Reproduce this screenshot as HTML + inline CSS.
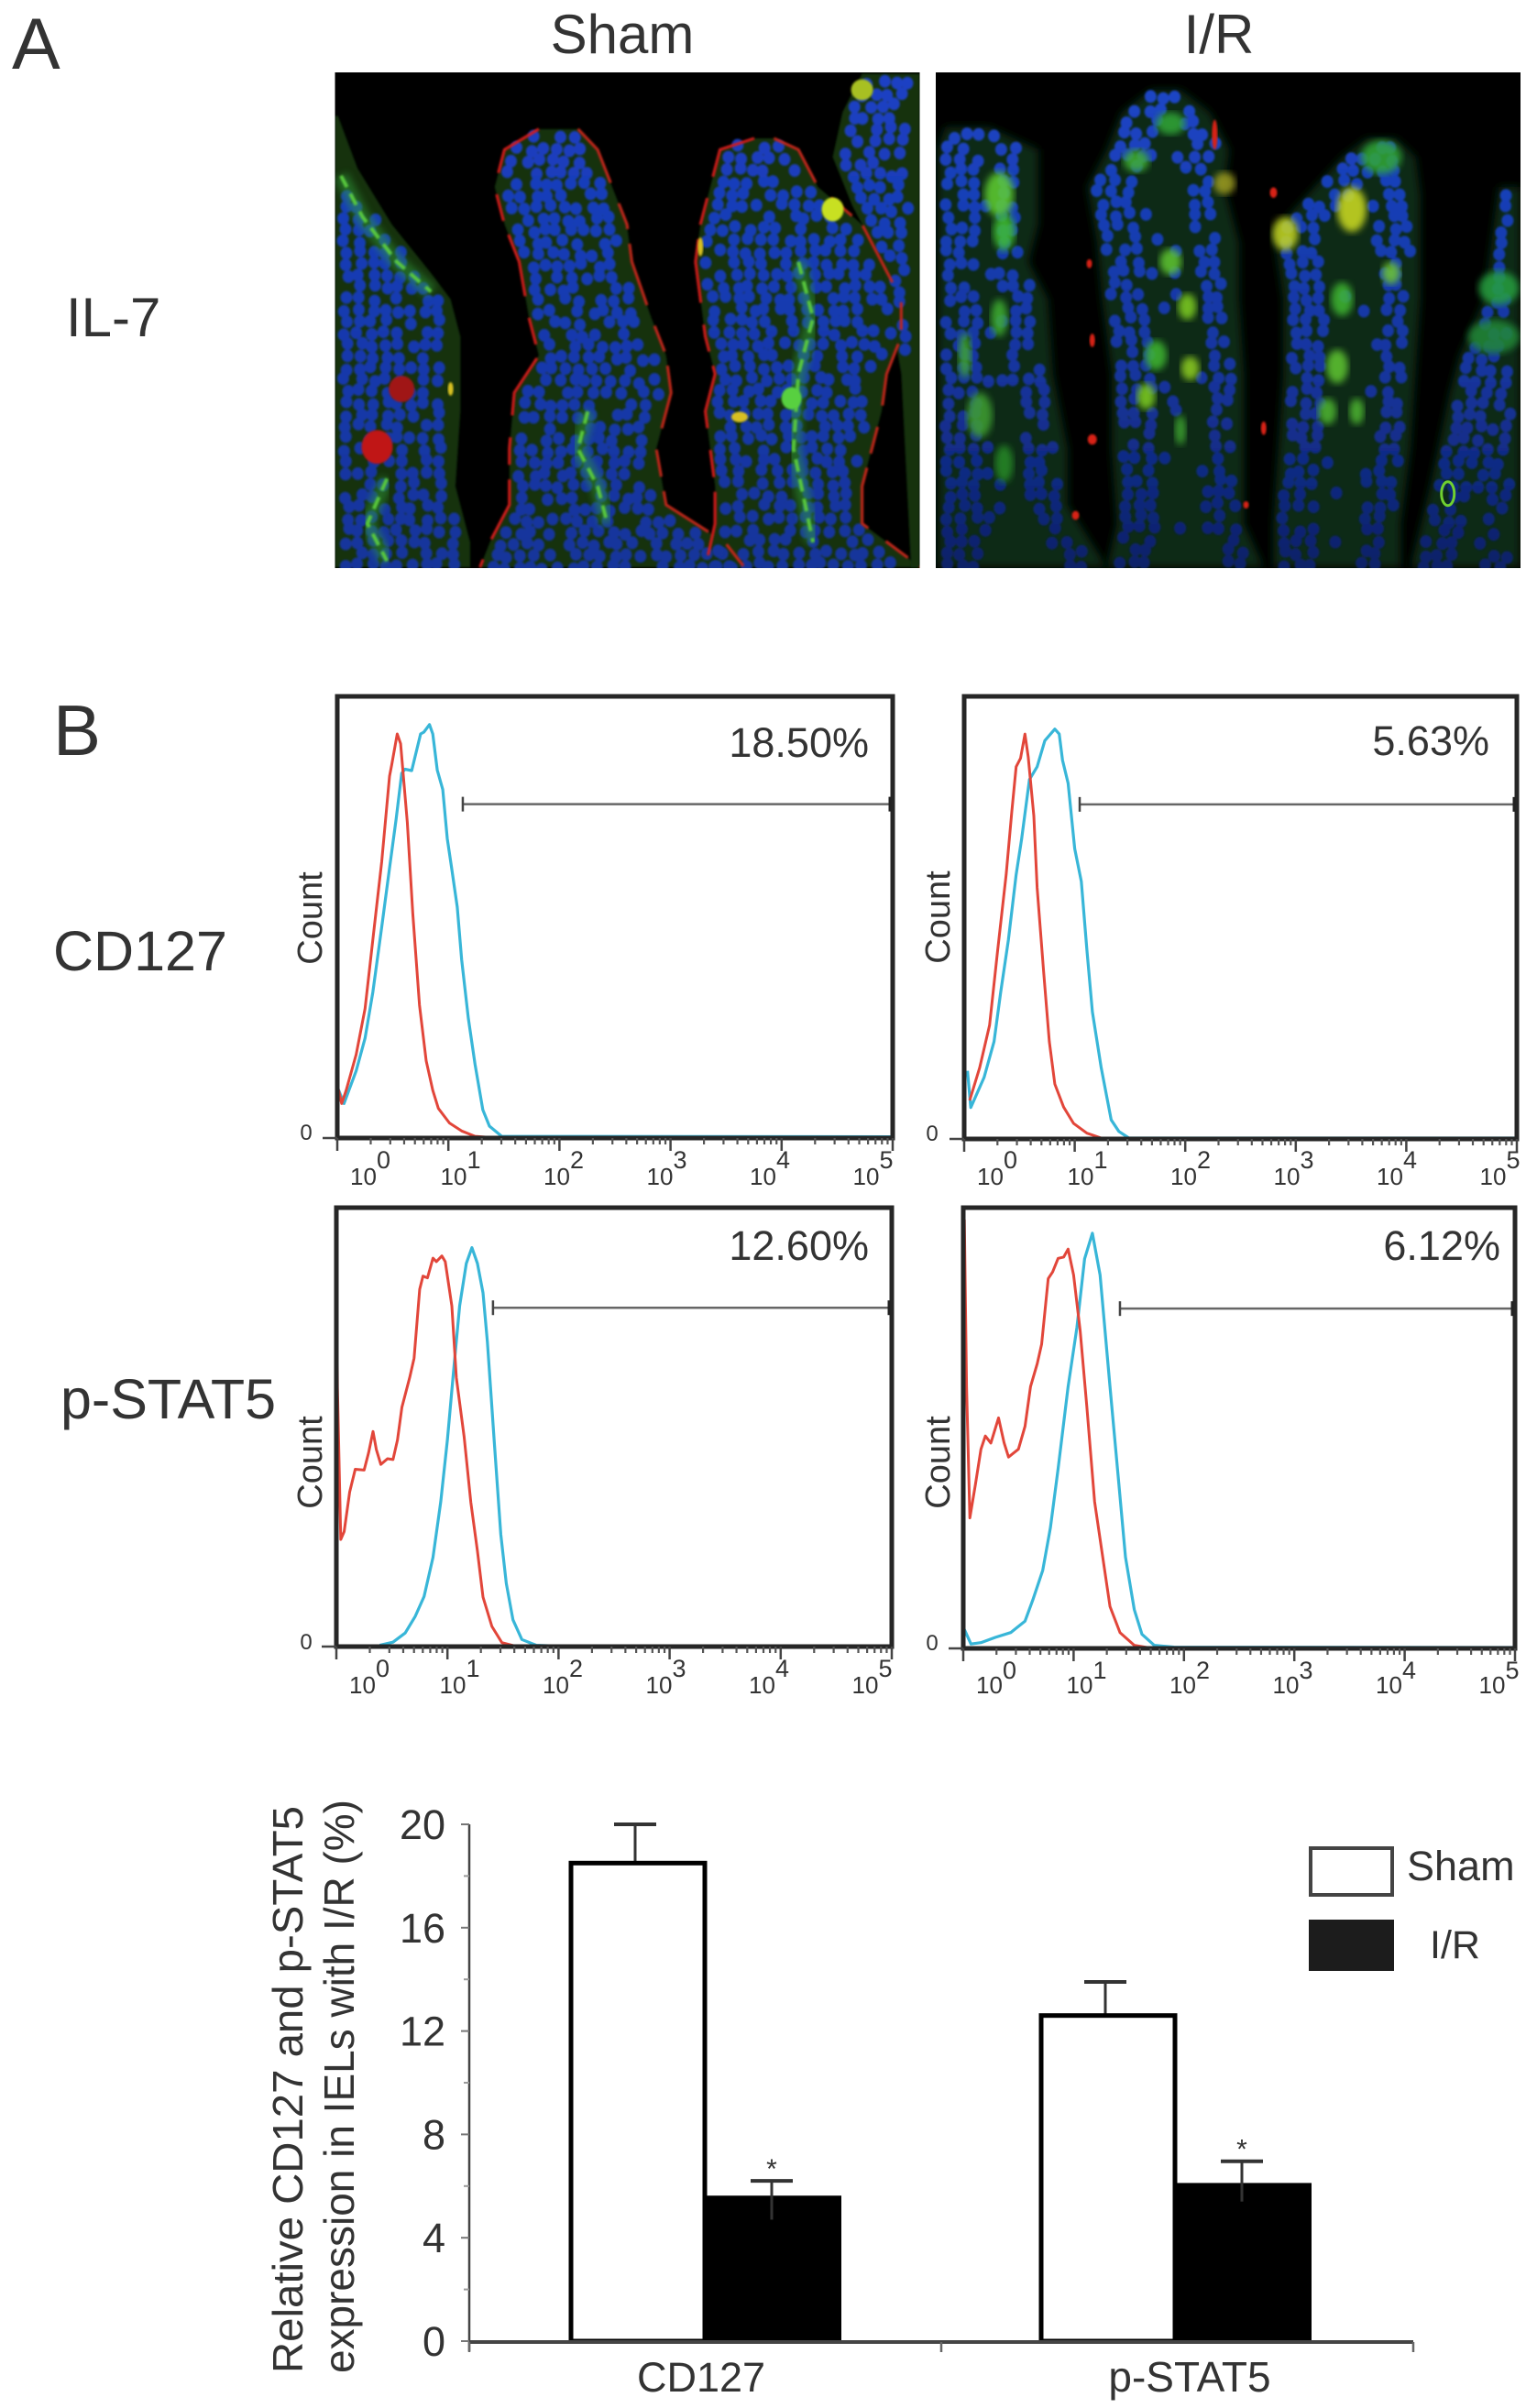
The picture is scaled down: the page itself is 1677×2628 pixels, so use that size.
<!DOCTYPE html>
<html lang="en">
<head>
<meta charset="utf-8">
<title>IL-7, CD127 and p-STAT5 figure</title>
<style>
  html, body { margin: 0; padding: 0; background: #fff; }
  svg { display: block; }
  text { font-family: "Liberation Sans", sans-serif; fill: #333; }
</style>
</head>
<body>
<svg id="fig" xmlns="http://www.w3.org/2000/svg" width="1677" height="2628" viewBox="0 0 1677 2628">
  <defs>
    <linearGradient id="gradSham" gradientUnits="userSpaceOnUse" x1="0" y1="79" x2="0" y2="620">
      <stop offset="0" stop-color="#1b40c4"/><stop offset="1" stop-color="#15349a"/>
    </linearGradient>
    <linearGradient id="gradIR" gradientUnits="userSpaceOnUse" x1="0" y1="79" x2="0" y2="620">
      <stop offset="0" stop-color="#1c46c8"/><stop offset="0.6" stop-color="#15359e"/><stop offset="1" stop-color="#0d2068"/>
    </linearGradient>
    <filter id="blurSoft" x="-10%" y="-10%" width="120%" height="120%"><feGaussianBlur stdDeviation="1.1"/></filter>
    <filter id="blurGreen" x="-10%" y="-10%" width="120%" height="120%"><feGaussianBlur stdDeviation="4"/></filter>
    <filter id="blurTissue" x="-10%" y="-10%" width="120%" height="120%"><feGaussianBlur stdDeviation="5"/></filter>
    <clipPath id="clipSham"><rect x="365.5" y="79" width="638" height="541"/></clipPath>
    <clipPath id="clipIR"><rect x="1021" y="79" width="638" height="541"/></clipPath>
  </defs>

  <text x="13" y="75" font-size="79">A</text>
  <text x="679" y="58" font-size="60" text-anchor="middle">Sham</text>
  <text x="1330" y="58" font-size="60" text-anchor="middle">I/R</text>
  <text x="72" y="367" font-size="60">IL-7</text>

  <g id="micrographs">
    <rect x="365.5" y="79" width="638" height="541" fill="#000"/>
    <rect x="1021" y="79" width="638" height="541" fill="#000"/>
    <g id="shamLayer" clip-path="url(#clipSham)"></g>
    <g id="irLayer" clip-path="url(#clipIR)"></g>
  </g>

  <text x="58" y="824" font-size="78">B</text>
  <text x="58" y="1059" font-size="61">CD127</text>
  <text x="66" y="1548" font-size="61">p-STAT5</text>

  <g id="flowPanels"></g>

  <g id="barChart">
    <g transform="translate(330,2590) rotate(-90)">
      <text font-size="46" textLength="619" lengthAdjust="spacingAndGlyphs">Relative CD127 and p-STAT5</text>
    </g>
    <g transform="translate(386,2590) rotate(-90)">
      <text font-size="46" textLength="626" lengthAdjust="spacingAndGlyphs">expression in IELs with I/R (%)</text>
    </g>
    <rect x="1430" y="2017" width="89" height="51" fill="#fff" stroke="#444" stroke-width="4"/>
    <text x="1535" y="2052" font-size="45">Sham</text>
    <rect x="1428" y="2095" width="93" height="56" fill="#1c1c1c"/>
    <text x="1560" y="2137" font-size="43">I/R</text>
  </g>
</svg>

<script>
// ---------- Flow histogram data (x in decades above axis start, y in % of plot height) ----------
const decadeTicks = [0, 1, 2, 3, 4, 5];
const minorMultipliers = [2, 3, 4, 5, 6, 7, 8, 9];
const percentLabels = ["18.50%", "5.63%", "12.60%", "6.12%"];
const gateStartDecades = [1.13, 1.045, 1.41, 1.42];
const gateCounts = [75.6, 75.6, 77.2, 77.1];

const cd127ShamRedLog = [0.01, 0.04, 0.08, 0.17, 0.25, 0.34, 0.40, 0.47, 0.49, 0.54, 0.57, 0.63, 0.68, 0.74, 0.80, 0.86, 0.91, 1.01, 1.12, 1.24, 1.39, 5];
const cd127ShamRedCount = [11, 7.8, 10.8, 18.9, 29.3, 49.3, 62.6, 81.9, 84.5, 91.5, 89.3, 71.5, 50.8, 30.1, 17.5, 10.8, 6.7, 3.4, 1.6, 0.4, 0.1, 0];
const cd127ShamBlueLog = [0.01, 0.06, 0.17, 0.25, 0.32, 0.40, 0.47, 0.53, 0.58, 0.61, 0.67, 0.75, 0.78, 0.83, 0.86, 0.90, 0.95, 0.99, 1.03, 1.08, 1.12, 1.18, 1.24, 1.31, 1.37, 1.48, 5];
const cd127ShamBlueCount = [11, 7.8, 15.2, 22.6, 33, 47.8, 61.1, 72.2, 82.6, 83.5, 83.2, 91.5, 91.9, 93.6, 91.5, 83.3, 78.9, 67.8, 61.1, 52.3, 40.4, 27.1, 16.7, 6.4, 2.7, 0.4, 0.3];

const cd127IrRedLog = [0.05, 0.14, 0.23, 0.30, 0.38, 0.43, 0.47, 0.51, 0.55, 0.58, 0.63, 0.66, 0.72, 0.77, 0.82, 0.90, 0.99, 1.11, 1.24, 5];
const cd127IrRedCount = [8.7, 16.1, 25.7, 42, 59.7, 73.8, 84.1, 86, 91.5, 86.3, 73, 56.8, 37.5, 22, 12.4, 7.2, 3.5, 1.3, 0.2, 0];
const cd127IrBlueLog = [0.03, 0.06, 0.18, 0.27, 0.33, 0.40, 0.47, 0.52, 0.59, 0.66, 0.73, 0.82, 0.86, 0.89, 0.94, 1.0, 1.06, 1.11, 1.16, 1.24, 1.33, 1.40, 1.49, 5];
const cd127IrBlueCount = [15.4, 7.1, 13.9, 22, 33.1, 44.9, 59.7, 67.8, 81.2, 84.1, 90, 92.6, 91.5, 85.6, 80.4, 65.6, 58.2, 42.7, 28.7, 16.1, 4.3, 1.7, 0.2, 0.2];

const stat5ShamRedLog = [0, 0.01, 0.04, 0.07, 0.12, 0.17, 0.25, 0.29, 0.33, 0.36, 0.40, 0.46, 0.51, 0.55, 0.59, 0.66, 0.70, 0.75, 0.78, 0.82, 0.87, 0.90, 0.95, 0.98, 1.04, 1.08, 1.15, 1.21, 1.27, 1.32, 1.40, 1.49, 1.61];
const stat5ShamRedCount = [94, 59, 24.4, 26.2, 35.2, 40.4, 40.2, 44.1, 49, 44.9, 41.5, 42.8, 42.6, 47.1, 54.5, 61.3, 65.7, 81.4, 84.4, 84, 88.5, 87.7, 89, 87.7, 77.6, 61.3, 47.8, 32.9, 21.8, 11.3, 4.6, 0.9, 0.1];
const stat5ShamBlueLog = [0.39, 0.51, 0.62, 0.71, 0.79, 0.87, 0.94, 1.0, 1.06, 1.11, 1.17, 1.22, 1.27, 1.32, 1.36, 1.42, 1.48, 1.53, 1.59, 1.67, 1.80, 2.0];
const stat5ShamBlueCount = [0.3, 1.0, 3.1, 6.9, 11.4, 20.3, 33, 47.2, 64.2, 77.6, 87.3, 90.9, 87.3, 80.6, 69.4, 47.2, 25.6, 14.4, 6.1, 1.6, 0.3, 0.1];

const stat5IrRedLog = [0.01, 0.03, 0.06, 0.11, 0.16, 0.20, 0.25, 0.32, 0.37, 0.41, 0.50, 0.56, 0.61, 0.67, 0.71, 0.77, 0.81, 0.86, 0.91, 0.95, 1.0, 1.06, 1.12, 1.19, 1.26, 1.33, 1.42, 1.55, 1.69];
const stat5IrRedCount = [97.3, 59.4, 29.6, 37.1, 45.2, 48.2, 46.6, 52.3, 46.7, 43.4, 45.2, 50.4, 59.4, 64.6, 69, 83.9, 85.4, 88.5, 88.8, 90.6, 84.7, 72, 54.9, 33.3, 21.4, 9.5, 3.6, 0.7, 0.1];
const stat5IrBlueLog = [0.01, 0.07, 0.16, 0.29, 0.43, 0.56, 0.63, 0.72, 0.79, 0.86, 0.95, 1.03, 1.10, 1.17, 1.24, 1.33, 1.40, 1.47, 1.55, 1.62, 1.73, 1.91, 5];
const stat5IrBlueCount = [4.3, 1, 1.3, 2.5, 3.6, 6.2, 11, 17.7, 27.4, 40.8, 59.4, 72.8, 88.4, 94.2, 84.7, 59.4, 40, 20.7, 8.8, 3.2, 0.7, 0.3, 0.2];

// ---------- Bar chart data ----------
const barCategories = ["CD127", "p-STAT5"];
const shamValues = [18.5, 12.6];
const irValues = [5.63, 6.12];
const shamErrorUp = [1.5, 1.3];
const irErrorUp = [0.57, 0.84];
const irErrorDown = [0.93, 0.72];
const yTickValues = [0, 4, 8, 12, 16, 20];
const yMinorValues = [2, 6, 10, 14, 18];

// ---------- Micrograph outlines (approximate tissue shapes: [y, left, right]) ----------
const shamVilli = [
  [[310,342,345],[450,342,365],[600,342,400],[730,342,440],[800,342,460],[900,342,470],[1100,342,470],[1300,342,465],[1450,342,480],[1517,342,480]],
  [[345,550,590],[400,515,610],[500,505,625],[600,515,640],[700,530,645],[850,540,665],[950,550,680],[1050,525,685],[1200,520,670],[1350,520,680],[1450,500,740],[1517,490,760]],
  [[370,770,790],[400,735,815],[500,725,835],[600,715,880],[700,710,900],[800,715,920],[900,720,920],[1000,730,905],[1100,720,900],[1200,725,890],[1300,730,880],[1400,730,880],[1517,720,940]],
  [[197,880,939],[300,860,939],[420,850,939],[550,870,939],[700,900,939],[1000,920,939],[1517,930,939]]
];
const irVilli = [
  [[340,965,1010],[400,957,1060],[600,957,1060],[700,957,1050],[800,957,1070],[1000,957,1075],[1200,957,1090],[1350,957,1090],[1517,957,1130]],
  [[240,1175,1205],[300,1145,1235],[400,1130,1255],[500,1110,1250],[650,1120,1265],[800,1125,1265],[1000,1135,1270],[1200,1135,1270],[1400,1140,1270],[1517,1130,1290]],
  [[370,1395,1425],[420,1370,1445],[520,1335,1450],[620,1300,1450],[800,1310,1450],[1000,1310,1445],[1200,1305,1440],[1400,1300,1430],[1517,1300,1430]],
  [[500,1530,1552],[800,1515,1552],[950,1490,1552],[1050,1480,1552],[1300,1460,1552],[1517,1440,1552]]
];
const shamGreenStreaks = [
  [[348,470],[370,580],[405,700],[440,780]],
  [[600,1100],[590,1200],[610,1300],[620,1400]],
  [[815,700],[830,850],[815,1000],[810,1200],[830,1450]],
  [[395,1280],[375,1400],[395,1500]]
];
const shamGreenBlobs = [[850,560,12,32,"#c8e020"],[808,1065,11,30,"#58d040"],[755,1115,9,14,"#d8c020"],[410,1040,14,35,"#a01818"],[385,1195,17,45,"#c01818"],[880,240,12,28,"#a8c020"],[460,1040,3,18,"#d8c020"],[715,660,3,25,"#d8c020"]];
const irGreenBlobs = [
  [1020,520,16,60,"#60d030"],[1025,620,12,50,"#40c030"],[1160,430,14,30,"#40b030"],[1195,330,16,30,"#30a838"],[1195,700,12,35,"#60c830"],
  [1212,820,10,35,"#80d020"],[1180,950,12,40,"#40b830"],[1215,985,10,32,"#90d020"],[1170,1060,10,35,"#80d020"],[1250,490,12,30,"#a0a020"],
  [1380,560,16,60,"#d0e020"],[1312,625,14,45,"#c8d820"],[1410,420,22,45,"#30a838"],[1420,730,10,30,"#70c830"],[1370,800,12,45,"#40b830"],
  [1365,980,12,45,"#60c830"],[1355,1100,10,35,"#50b830"],[1385,1100,8,35,"#50b830"],[1020,850,9,50,"#40b030"],[985,950,7,60,"#40a830"],
  [1000,1110,14,60,"#40a030"],[1025,1240,10,50,"#288a28"],[1530,770,22,45,"#28a040"],[1525,900,28,45,"#208838"],[1205,1150,6,40,"#40a830"]
];
const irRedSpecks = [[1240,360,3,40],[1112,705,3,12],[1115,910,3,18],[1115,1175,5,14],[1300,515,4,14],[1098,1378,4,12],[1272,1350,3,10],[1290,1145,3,18]];

const NS = "http://www.w3.org/2000/svg";
function make(tag, attrs, parent, text) {
  const node = document.createElementNS(NS, tag);
  for (const key in attrs) node.setAttribute(key, attrs[key]);
  if (text !== undefined) node.textContent = text;
  parent.appendChild(node);
  return node;
}

// ---------- Micrographs ----------
let seed = 12345;
function rnd() { seed = (seed * 1664525 + 1013904223) % 4294967296; return seed / 4294967296; }
const px = x => x / 0.9356;
const py = y => y / 2.45;

function rowAt(rows, y) {
  for (let i = 0; i < rows.length - 1; i++) {
    const a = rows[i], b = rows[i + 1];
    if (y >= a[0] && y <= b[0]) {
      const t = (y - a[0]) / (b[0] - a[0]);
      return [px(a[1] + (b[1] - a[1]) * t), px(a[2] + (b[2] - a[2]) * t)];
    }
  }
  return null;
}
function outline(rows) {
  const left = rows.map(r => px(r[1]) + "," + py(r[0]));
  const right = rows.slice().reverse().map(r => px(r[2]) + "," + py(r[0]));
  return left.concat(right).join(" ");
}
function edgePath(rows, idx) {
  return rows.map((r, i) => (i ? "L" : "M") + px(r[idx]).toFixed(1) + " " + py(r[0]).toFixed(1)).join(" ");
}
function ellipseD(x, y, rx, ry) {
  return "M" + (x - rx).toFixed(1) + " " + y.toFixed(1) + "a" + rx + " " + ry + " 0 1 0 " + (2 * rx) + " 0a" + rx + " " + ry + " 0 1 0 " + (-2 * rx) + " 0";
}
function nuclei(rows, edgesOnly) {
  let d = "";
  const top = rows[0][0], bottom = rows[rows.length - 1][0];
  for (let y = top + 24; y < bottom; y += 31) {
    const row = rowAt(rows, y);
    if (!row) continue;
    const l = row[0] + 12, r = row[1] - 12;
    for (let x = l; x < r; x += 14.5) {
      const inCore = edgesOnly && (x > l + 32) && (x < r - 32);
      if (inCore && rnd() > 0.12) continue;
      if (rnd() < 0.13) continue;
      d += ellipseD(x + (rnd() - 0.5) * 7, py(y) + (rnd() - 0.5) * 5, 6.5, 7);
    }
  }
  return d;
}

const shamLayer = document.getElementById("shamLayer");
const irLayer = document.getElementById("irLayer");

shamVilli.forEach(rows => {
  const tissue = make("polygon", { points: outline(rows), fill: "#14300f", filter: "url(#blurSoft)" }, shamLayer);
  
  
});
irVilli.forEach(rows => {
  const tissue = make("polygon", { points: outline(rows), fill: "#0f2c12", filter: "url(#blurTissue)" }, irLayer);
  
  
});
shamVilli.forEach(rows => {
  const n = make("path", { d: nuclei(rows, false), fill: "url(#gradSham)", filter: "url(#blurSoft)" }, shamLayer);
  
  
});
irVilli.forEach(rows => {
  const n = make("path", { d: nuclei(rows, true), fill: "url(#gradIR)", filter: "url(#blurSoft)" }, irLayer);
  
  
});
[1, 2].forEach(i => {
  [1, 2].forEach(side => {
    const edge = make("path", { d: edgePath(shamVilli[i], side), fill: "none", stroke: side === 1 ? "#d81c1c" : "#c8281c", "stroke-width": 3, "stroke-dasharray": "70 24 30 16", filter: "url(#blurSoft)" }, shamLayer);
    
    
  });
});
shamGreenStreaks.forEach(s => {
  const pts = s.map(p => px(p[0]).toFixed(1) + "," + py(p[1]).toFixed(1)).join(" ");
  const glow = make("polyline", { points: pts, fill: "none", stroke: "#2f9a3a", "stroke-width": 16, opacity: 0.5, filter: "url(#blurGreen)" }, shamLayer);
  
  
  const streak = make("polyline", { points: pts, fill: "none", stroke: "#58c83c", "stroke-width": 4, "stroke-dasharray": "14 8", filter: "url(#blurSoft)" }, shamLayer);
  
  
});
shamGreenBlobs.forEach(b => {
  const blob = make("ellipse", { cx: px(b[0]), cy: py(b[1]), rx: b[2], ry: py(b[3]), fill: b[4], filter: "url(#blurSoft)" }, shamLayer);
  
  
});
irGreenBlobs.forEach(b => {
  const blob = make("ellipse", { cx: px(b[0]), cy: py(b[1]), rx: b[2], ry: py(b[3]), fill: b[4], opacity: 0.85, filter: "url(#blurGreen)" }, irLayer);
  
  
});
irRedSpecks.forEach(b => {
  const speck = make("ellipse", { cx: px(b[0]), cy: py(b[1]), rx: b[2], ry: py(b[3]), fill: "#d82018", filter: "url(#blurSoft)" }, irLayer);
  
  
});
const ring = make("ellipse", { cx: px(1478), cy: py(1320), rx: 7, ry: 13, fill: "none", stroke: "#70d030", "stroke-width": 3 }, irLayer);



// ---------- Flow histogram panels ----------
const flowLayouts = [
  { left: 368, right: 974, top: 760, bottom: 1242, countX: 351, countY: 1002, pctRight: 948, pctY: 826, tickBase: 1293, supBase: 1275, zeroX: 334, zeroBase: 1244 },
  { left: 1052, right: 1655, top: 760, bottom: 1243, countX: 1036, countY: 1001, pctRight: 1625, pctY: 824, tickBase: 1293, supBase: 1275, zeroX: 1017, zeroBase: 1245 },
  { left: 367, right: 973, top: 1318, bottom: 1797, countX: 351, countY: 1596, pctRight: 948, pctY: 1375, tickBase: 1848, supBase: 1830, zeroX: 334, zeroBase: 1800 },
  { left: 1051, right: 1653, top: 1318, bottom: 1799, countX: 1036, countY: 1596, pctRight: 1637, pctY: 1375, tickBase: 1848, supBase: 1832, zeroX: 1017, zeroBase: 1801 }
];
const flowSeries = [
  [cd127ShamRedLog, cd127ShamRedCount, cd127ShamBlueLog, cd127ShamBlueCount],
  [cd127IrRedLog, cd127IrRedCount, cd127IrBlueLog, cd127IrBlueCount],
  [stat5ShamRedLog, stat5ShamRedCount, stat5ShamBlueLog, stat5ShamBlueCount],
  [stat5IrRedLog, stat5IrRedCount, stat5IrBlueLog, stat5IrBlueCount]
];
const flowRoot = document.getElementById("flowPanels");

flowLayouts.forEach((L, i) => {
  const g = make("g", {}, flowRoot);
  
  

  const xs = d => L.left + d * (L.right - L.left) / 5;
  const ys = c => L.bottom - c * (L.bottom - L.top) / 100;

  const red = flowSeries[i][0].map((d, k) => xs(d).toFixed(1) + "," + ys(flowSeries[i][1][k]).toFixed(1)).join(" ");
  const blue = flowSeries[i][2].map((d, k) => xs(d).toFixed(1) + "," + ys(flowSeries[i][3][k]).toFixed(1)).join(" ");

  const blueLine = make("polyline", { points: blue, fill: "none", stroke: "#38b6d8", "stroke-width": 3.2, "stroke-linejoin": "round" }, g);
  
  
  const redLine = make("polyline", { points: red, fill: "none", stroke: "#e2463a", "stroke-width": 3, "stroke-linejoin": "round" }, g);
  
  

  const box = make("rect", { x: L.left, y: L.top, width: L.right - L.left, height: L.bottom - L.top, fill: "none", stroke: "#262626", "stroke-width": 5 }, g);
  
  

  const zeroTick = make("line", { x1: L.left - 16, x2: L.left, y1: L.bottom, y2: L.bottom, stroke: "#444", "stroke-width": 2.5 }, g);
  
  
  const zero = make("text", { x: L.zeroX, y: L.zeroBase, "font-size": 24, "text-anchor": "middle" }, g, "0");
  
  

  const count = make("text", { transform: "translate(" + L.countX + "," + L.countY + ") rotate(-90)", "font-size": 38, "text-anchor": "middle" }, g, "Count");
  
  

  const pct = make("text", { x: L.pctRight, y: L.pctY, "font-size": 45, "text-anchor": "end" }, g, percentLabels[i]);
  
  

  const gateX = xs(gateStartDecades[i]), gateY = ys(gateCounts[i]);
  const gate = make("line", { x1: gateX, x2: L.right - 3, y1: gateY, y2: gateY, stroke: "#666", "stroke-width": 2.5 }, g);
  
  
  const capL = make("line", { x1: gateX, x2: gateX, y1: gateY - 8, y2: gateY + 8, stroke: "#444", "stroke-width": 2.5 }, g);
  
  
  const capR = make("line", { x1: L.right - 3, x2: L.right - 3, y1: gateY - 8, y2: gateY + 8, stroke: "#222", "stroke-width": 3 }, g);
  
  

  decadeTicks.forEach(k => {
    const major = make("line", { x1: xs(k), x2: xs(k), y1: L.bottom, y2: L.bottom + 14, stroke: "#444", "stroke-width": 2.5 }, g);
    
    
    if (k < 5) {
      minorMultipliers.forEach(m => {
        const mx = xs(k + Math.log10(m));
        const minor = make("line", { x1: mx, x2: mx, y1: L.bottom, y2: L.bottom + 7, stroke: "#555", "stroke-width": 2.2 }, g);
        
        
      });
    }
    const labelX = L.left + (k === 0 ? 14 : 112.5 * k);
    const base = make("text", { x: labelX, y: L.tickBase, "font-size": 26 }, g, "10");
    
    
    const sup = make("text", { x: labelX + 29, y: L.supBase, "font-size": 27 }, g, String(k));
    
    
  });
});

// ---------- Bar chart ----------
const barRoot = document.getElementById("barChart");
const yBar = v => 2555 - v * 28.2;
const groupLeft = g => 620 + g * 513;

barCategories.forEach((name, g) => {
  const left = groupLeft(g);
  const irLeft = left + 148;

  const stem1 = make("line", { x1: left + 73, x2: left + 73, y1: yBar(shamValues[g] + shamErrorUp[g]), y2: yBar(shamValues[g]), stroke: "#333", "stroke-width": 3 }, barRoot);
  
  
  const cap1 = make("line", { x1: left + 50, x2: left + 96, y1: yBar(shamValues[g] + shamErrorUp[g]), y2: yBar(shamValues[g] + shamErrorUp[g]), stroke: "#333", "stroke-width": 4 }, barRoot);
  
  

  const shamBar = make("rect", { x: left + 3, y: yBar(shamValues[g]), width: 146, height: yBar(0) - yBar(shamValues[g]), fill: "#fff", stroke: "#000", "stroke-width": 5 }, barRoot);
  
  

  const irBar = make("rect", { x: irLeft, y: yBar(irValues[g]), width: 150, height: yBar(0) - yBar(irValues[g]), fill: "#000" }, barRoot);
  
  

  const stem2 = make("line", { x1: irLeft + 74, x2: irLeft + 74, y1: yBar(irValues[g] + irErrorUp[g]), y2: yBar(irValues[g] - irErrorDown[g]), stroke: "#333", "stroke-width": 3 }, barRoot);
  
  
  const cap2 = make("line", { x1: irLeft + 51, x2: irLeft + 97, y1: yBar(irValues[g] + irErrorUp[g]), y2: yBar(irValues[g] + irErrorUp[g]), stroke: "#333", "stroke-width": 4 }, barRoot);
  
  

  const star = make("text", { x: irLeft + 74, y: yBar(irValues[g] + irErrorUp[g]) - 3, "font-size": 30, "text-anchor": "middle" }, barRoot, "*");
  
  

  const cat = make("text", { x: g === 0 ? 765 : 1298, y: 2610, "font-size": g === 0 ? 45 : 46, "text-anchor": "middle" }, barRoot, name);
  
  
});

const yAxis = make("line", { x1: 512, x2: 512, y1: yBar(20), y2: 2566, stroke: "#444", "stroke-width": 2.5 }, barRoot);


const xAxis = make("line", { x1: 512, x2: 1542, y1: 2556, y2: 2556, stroke: "#444", "stroke-width": 4 }, barRoot);


[0, 1, 2].forEach(k => {
  const tx = 512 + k * 515;
  const t = make("line", { x1: tx, x2: tx, y1: 2556, y2: 2567, stroke: "#666", "stroke-width": 2.5 }, barRoot);
  
  
});
yTickValues.forEach(v => {
  const t = make("line", { x1: 503, x2: 512, y1: yBar(v), y2: yBar(v), stroke: "#777", "stroke-width": 2 }, barRoot);
  
  
  const l = make("text", { x: 486, y: yBar(v) + 16, "font-size": 45, "text-anchor": "end" }, barRoot, String(v));
  
  
});
yMinorValues.forEach(v => {
  const t = make("line", { x1: 506, x2: 512, y1: yBar(v), y2: yBar(v), stroke: "#999", "stroke-width": 2 }, barRoot);
  
  
});
</script>
</body>
</html>
